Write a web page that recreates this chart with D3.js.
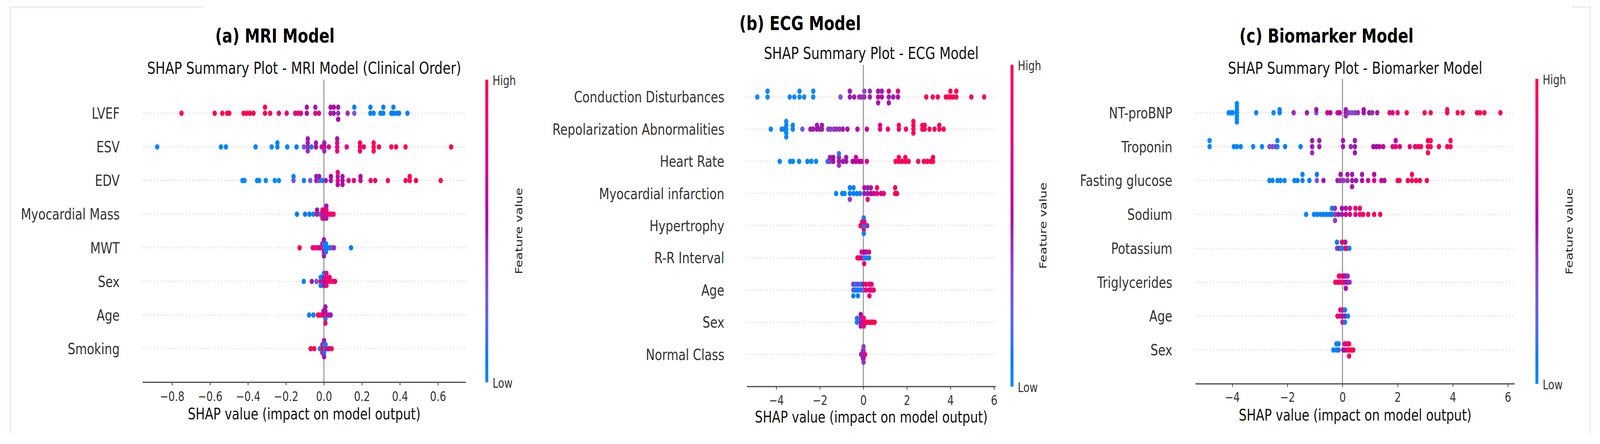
<!DOCTYPE html>
<html>
<head>
<meta charset="utf-8">
<title>SHAP Summary Plots</title>
<style>
  html, body { margin: 0; padding: 0; background: #fff; overflow: hidden; }
  svg { display: block; width: 100vw; height: 100vh; font-family: "DejaVu Sans", sans-serif; }
</style>
</head>
<body>
<svg id="chart" viewBox="0 0 4411 1137" preserveAspectRatio="none"></svg>

<script src="https://cdn.jsdelivr.net/npm/d3@7"></script>
<script>

// ---- data: [shap value, feature value (0 = low, 1 = high)] per sample ----

const mriFeatures = ["LVEF", "ESV", "EDV", "Myocardial Mass", "MWT", "Sex", "Age", "Smoking"];
const mriTicks = [-0.8, -0.6, -0.4, -0.2, 0.0, 0.2, 0.4, 0.6];
const mriPoints = [
  // LVEF
  [[-0.75,1],[-0.575,1],[-0.535,1],[-0.51,1],[-0.498,1],[-0.423,1],[-0.407,1],[-0.39,1],[-0.371,1],
   [-0.31,1],[-0.31,1],[-0.283,0.95],[-0.237,0.8],[-0.196,0.8],[-0.151,0.8],[-0.136,0.8],[-0.121,0.75],
   [-0.09,0.55],[-0.09,0.5],[-0.045,0.75],[-0.045,0.5],[-0.026,0.75],[0.035,0.5],[0.035,0.5],
   [0.052,0.5],[0.052,0.55],[0.075,0.45],[0.075,0.5],[0.075,0.55],[0.125,0.45],[0.16,0.3],[0.16,0.05],
   [0.245,0.05],[0.245,0.05],[0.262,0.05],[0.298,0.05],[0.313,0.05],[0.313,0.05],[0.355,0.05],
   [0.366,0.05],[0.366,0.05],[0.383,0.05],[0.396,0.05],[0.44,0.05]],
  // ESV
  [[-0.878,0],[-0.542,0],[-0.516,0],[-0.36,0],[-0.275,0],[-0.245,0.05],[-0.245,0.05],[-0.193,0],
   [-0.144,0.05],[-0.105,0.3],[-0.085,0.45],[-0.085,0.5],[-0.085,0.45],[-0.085,0.5],[-0.066,0.1],
   [-0.042,0.6],[-0.042,0.5],[-0.012,0.8],[0.002,0.5],[0.002,0.5],[0.002,0.45],[0.026,0.8],
   [0.07,0.8],[0.07,0.85],[0.07,0.8],[0.07,0.5],[0.12,0.8],[0.19,0.85],[0.19,1],[0.19,0.85],
   [0.21,0.85],[0.262,1],[0.262,1],[0.262,1],[0.29,1],[0.355,1],[0.38,1],[0.43,1],[0.67,1]],
  // EDV
  [[-0.429,0],[-0.418,0],[-0.352,0],[-0.341,0],[-0.306,0],[-0.259,0],[-0.237,0],[-0.16,0.3],
   [-0.16,0.05],[-0.105,0.05],[-0.072,0.3],[-0.04,0.5],[-0.04,0.5],[-0.025,0.3],[-0.025,0.5],
   [-0.009,0.05],[0.01,0.5],[0.037,0.5],[0.037,0.55],[0.073,0.8],[0.073,0.5],[0.073,0.6],[0.073,0.85],
   [0.098,0.6],[0.098,0.5],[0.098,0.55],[0.13,0.8],[0.158,0.8],[0.193,0.6],[0.193,0.55],[0.246,0.85],
   [0.27,0.85],[0.337,1],[0.43,1],[0.452,1],[0.452,1],[0.485,1],[0.615,1]],
  // Myocardial Mass
  [[-0.142,0.05],[-0.099,0.1],[-0.076,0.05],[-0.055,0.05],[-0.036,0.85],[-0.036,0.5],[-0.019,0.1],
   [-0.008,0.85],[-0.008,0.85],[-0.008,0.9],[0.001,0.5],[0.001,0.85],[0.001,0.5],[0.013,0.85],
   [0.013,0.85],[0.013,0.5],[0.013,0.5],[0.021,0.85],[0.031,0.85],[0.041,0.9],[0.051,0.9]],
  // MWT
  [[-0.128,1],[-0.059,0.85],[-0.048,0.85],[-0.034,0.85],[-0.027,0.9],[-0.018,0.5],[-0.008,0.85],
   [-0.008,0.8],[0.0,0.35],[0.0,0.1],[0.0,0.5],[0.0,0.5],[0.0,0.5],[0.011,0.05],[0.011,0.05],
   [0.011,0.1],[0.02,0.05],[0.03,0.05],[0.041,0.3],[0.053,0.45],[0.143,0.05]],
  // Sex
  [[-0.106,0.05],[-0.064,0.5],[-0.039,0.3],[-0.017,1],[-0.017,0.05],[-0.017,0.05],[0.0,0.5],
   [0.0,0.5],[0.0,0.5],[0.0,0.1],[0.013,0.85],[0.013,0.85],[0.013,0.85],[0.013,0.85],[0.03,0.85],
   [0.03,0.85],[0.046,1],[0.059,0.85]],
  // Age
  [[-0.078,0.05],[-0.055,0.05],[-0.031,1],[-0.021,0.85],[-0.011,0.95],[-0.002,0.8],[-0.002,0.6],
   [0.008,0.8],[0.008,0.5],[0.008,0.05],[0.008,0.5],[0.008,1],[0.017,0.8],[0.027,0.5],[0.036,0.5]],
  // Smoking
  [[-0.07,1],[-0.051,1],[-0.021,0.05],[-0.008,1],[-0.008,0.85],[-0.008,0.8],[0.001,0.85],
   [0.001,0.05],[0.001,0.05],[0.001,0.5],[0.001,0.5],[0.009,0.05],[0.009,0.1],[0.014,0.85],
   [0.027,0.5],[0.041,1]]
];

const ecgFeatures = ["Conduction Disturbances", "Repolarization Abnormalities", "Heart Rate",
  "Myocardial infarction", "Hypertrophy", "R-R Interval", "Age", "Sex", "Normal Class"];
const ecgTicks = [-4, -2, 0, 2, 4, 6];
const ecgPoints = [
  // Conduction Disturbances
  [[-4.87,0],[-4.4,0],[-4.4,0],[-3.38,0],[-3.17,0],[-2.93,0],[-2.93,0],[-2.72,0],[-2.3,0],[-2.3,0],
   [-1.05,0.3],[-0.62,0.5],[-0.62,0.5],[-0.42,0.5],[-0.19,0.45],[-0.08,0.45],[0.05,0.45],[0.05,0.35],
   [0.3,0.5],[0.3,0.45],[0.68,0.6],[0.68,0.5],[0.68,0.5],[0.85,0.6],[0.85,0.5],[1.17,0.5],[1.17,0.7],
   [1.17,0.5],[1.37,0.5],[1.59,0.6],[1.59,0.75],[2.89,1],[3.19,1],[3.42,1],[3.79,1],[3.9,1],[4.0,1],
   [4.0,1],[4.12,1],[4.27,1],[4.27,1],[4.96,1],[5.55,1]],
  // Repolarization Abnormalities
  [[-4.25,0],[-3.75,0],[-3.65,0],[-3.54,0],[-3.54,0],[-3.54,0],[-3.54,0],[-3.54,0],[-3.24,0],
   [-3.24,0.05],[-2.8,0.25],[-2.43,0.5],[-2.3,0.5],[-2.13,0.5],[-2.13,0.5],[-2.0,0.5],[-1.9,0.5],
   [-1.9,0.5],[-1.61,0.4],[-1.5,0.4],[-1.35,0.4],[-1.24,0.45],[-1.09,0.45],[-0.94,0.5],[-0.73,0.55],
   [-0.27,0.6],[0.16,0.65],[0.77,0.8],[0.77,0.8],[1.13,0.85],[1.63,0.95],[1.63,1],[1.96,0.95],
   [2.3,1],[2.3,1],[2.3,1],[2.3,0.95],[2.71,1],[2.71,1],[2.82,1],[2.82,1],[3.04,0.9],[3.27,0.95],
   [3.49,0.95],[3.49,1],[3.69,1]],
  // Heart Rate
  [[-3.84,0],[-3.36,0],[-3.24,0],[-2.95,0],[-2.57,0],[-2.39,0],[-2.17,0],[-1.64,0.1],[-1.53,0.4],
   [-1.53,0.5],[-1.38,0.5],[-1.38,0.55],[-1.12,0.5],[-1.12,0.5],[-1.12,0.45],[-1.12,0.15],[-0.94,0.5],
   [-0.79,0.5],[-0.79,0.5],[-0.49,0.55],[-0.34,0.6],[-0.34,0.7],[-0.19,0.6],[-0.08,0.65],[0.16,0.8],
   [1.48,1],[1.63,1],[1.63,1],[1.78,1],[1.93,1],[1.93,0.95],[2.08,1],[2.52,0.95],[2.78,1],[2.93,1],
   [3.08,1],[3.2,1],[3.2,1]],
  // Myocardial infarction
  [[-1.25,0],[-0.97,0],[-0.86,0],[-0.62,0.05],[-0.62,0.05],[-0.62,0.4],[-0.45,0.05],[-0.45,0.05],
   [-0.3,0.05],[-0.15,0.1],[0.05,0.5],[0.05,0.5],[0.2,0.5],[0.2,0.5],[0.2,0.85],[0.35,0.55],
   [0.35,0.5],[0.48,0.7],[0.63,0.8],[0.63,0.95],[0.81,0.8],[0.94,0.8],[1.46,1],[1.46,1],[1.55,1]],
  // Hypertrophy
  [[-0.13,0.95],[-0.05,0.85],[-0.05,0.8],[0.02,0.05],[0.02,0.85],[0.02,1],[0.02,0.05],[0.02,0.05],
   [0.05,0.05],[0.05,0.85],[0.18,0.45]],
  // R-R Interval
  [[-0.27,1],[-0.18,0.9],[-0.08,0.6],[-0.08,0.85],[0.04,0.3],[0.04,0.55],[0.04,0.85],[0.13,0.05],
   [0.13,0.5],[0.26,0.05],[0.26,0.85]],
  // Age
  [[-0.46,0.3],[-0.46,0.45],[-0.46,0.05],[-0.35,0.05],[-0.35,0.05],[-0.25,0.05],[-0.25,0.4],
   [-0.25,0.05],[-0.12,0.1],[-0.12,0.05],[0.0,0.3],[0.0,0.5],[0.12,0.8],[0.12,1],[0.28,0.75],
   [0.28,0.75],[0.28,0.8],[0.38,0.8],[0.38,0.75],[0.48,0.85]],
  // Sex
  [[-0.29,0.05],[-0.29,0.1],[-0.12,0.5],[-0.12,0.45],[-0.12,0.5],[-0.12,0.55],[0.02,0.8],[0.02,0.85],
   [0.02,0.85],[0.12,0.9],[0.2,1],[0.28,1],[0.36,1],[0.44,1],[0.52,1]],
  // Normal Class
  [[-0.1,0.5],[-0.02,0.05],[-0.02,0.1],[-0.02,0.5],[0.01,0.5],[0.01,0.45],[0.01,0.5],[0.01,0.4],
   [0.01,0.45],[0.08,0.85]]
];

const bioFeatures = ["NT-proBNP", "Troponin", "Fasting glucose", "Sodium", "Potassium",
  "Triglycerides", "Age", "Sex"];
const bioTicks = [-4, -2, 0, 2, 4, 6];
const bioPoints = [
  // NT-proBNP
  [[-4.13,0],[-4.05,0],[-3.98,0],[-3.83,0],[-3.83,0],[-3.83,0],[-3.83,0],[-3.83,0],[-3.83,0],
   [-3.83,0],[-3.13,0],[-2.5,0],[-2.28,0.05],[-2.28,0.05],[-1.77,0.45],[-1.29,0.5],[-0.95,0.3],
   [-0.95,0.5],[-0.55,0.7],[-0.44,0.6],[-0.18,0.7],[-0.1,0.6],[0.12,0.5],[0.12,0.5],[0.12,0.45],
   [0.23,0.4],[0.34,0.35],[0.45,0.4],[0.56,0.45],[0.77,0.5],[0.77,0.55],[0.97,0.5],[1.08,0.45],
   [1.26,0.5],[1.71,0.8],[1.82,0.8],[2.0,0.85],[2.33,1],[2.98,1],[3.2,1],[3.8,1],[3.8,0.9],
   [4.18,1],[4.36,1],[4.88,1],[4.99,1],[5.15,1],[5.73,1]],
  // Troponin
  [[-4.82,0],[-4.82,0],[-3.94,0],[-3.83,0],[-3.69,0],[-3.24,0],[-2.92,0],[-2.65,0.3],[-2.54,0.35],
   [-2.43,0.3],[-2.36,0.1],[-2.36,0.05],[-2.08,0.05],[-1.52,0.05],[-1.1,0.5],[-1.1,0.5],[-1.1,0.45],
   [-0.84,0.5],[-0.84,0.5],[0.02,0.5],[0.02,0.5],[0.3,0.45],[0.45,0.5],[0.45,0.5],[0.45,0.5],
   [1.12,0.55],[1.23,0.55],[1.34,0.6],[1.48,0.65],[1.82,0.8],[1.93,0.8],[1.93,0.6],[2.08,0.8],
   [2.44,0.8],[2.63,0.9],[2.74,0.9],[2.85,0.95],[3.1,1],[3.1,1],[3.1,1],[3.2,1],[3.2,1],[3.5,1],
   [3.8,1],[3.92,1],[3.92,1]],
  // Fasting glucose
  [[-2.65,0],[-2.54,0],[-2.36,0],[-2.25,0],[-2.1,0],[-1.74,0.05],[-1.63,0.05],[-1.45,0.05],
   [-1.45,0.05],[-1.2,0.05],[-0.93,0.3],[-0.93,0.1],[-0.69,0.5],[-0.18,0.5],[-0.07,0.45],[-0.07,0.5],
   [0.04,0.4],[0.18,0.45],[0.18,0.5],[0.35,0.5],[0.35,0.5],[0.35,0.5],[0.49,0.5],[0.71,0.55],
   [0.71,0.5],[0.93,0.7],[1.15,0.75],[1.15,0.6],[1.41,0.65],[1.52,0.6],[2.0,1],[2.07,1],[2.37,0.95],
   [2.52,1],[2.52,1],[2.67,1],[2.81,1],[3.06,1]],
  // Sodium
  [[-1.32,0],[-1.03,0],[-0.92,0],[-0.8,0.05],[-0.69,0.05],[-0.58,0.05],[-0.47,0.1],[-0.38,0.05],
   [-0.38,0.05],[-0.27,0.4],[-0.27,0.45],[-0.27,0.4],[-0.15,0.5],[-0.02,0.5],[-0.02,0.55],[0.12,0.65],
   [0.12,0.5],[0.27,0.75],[0.27,0.8],[0.47,0.8],[0.47,0.85],[0.63,0.85],[0.63,0.9],[0.75,0.9],
   [0.93,1],[1.15,1],[1.37,1]],
  // Potassium
  [[-0.2,0.3],[-0.2,0.05],[-0.13,0.5],[-0.06,0.05],[-0.02,0.05],[-0.02,1],[0.1,0.8],[0.1,0.5],
   [0.16,0.95],[0.25,0.05]],
  // Triglycerides
  [[-0.26,1],[-0.2,0.85],[-0.13,0.9],[-0.13,0.85],[-0.06,1],[-0.06,1],[0.05,0.75],[0.05,0.55],
   [0.12,0.5],[0.12,0.5],[0.12,0.55],[0.19,0.5],[0.19,0.45],[0.26,0.45]],
  // Age
  [[-0.18,1],[-0.08,0.85],[-0.08,0.85],[0.0,0.5],[0.0,0.85],[0.0,0.8],[0.09,0.5],[0.09,0.05],
   [0.09,0.05],[0.2,0.05]],
  // Sex
  [[-0.33,0.05],[-0.22,0.05],[-0.22,0.05],[-0.14,0.1],[-0.14,0.05],[0.03,0.5],[0.08,0.6],[0.08,0.65],
   [0.17,0.8],[0.17,0.85],[0.24,1],[0.24,1],[0.24,1],[0.32,1],[0.39,1]]
];

// ---- layout ----

const SY = 1.2;   // the source picture is stretched vertically

const panels = [
  { title: "(a) MRI Model", titleX: 758, titleY: 92,
    sub: "SHAP Summary Plot - MRI Model (Clinical Order)", subY: 174,
    features: mriFeatures, points: mriPoints, ticks: mriTicks, fmt: d3.format(".1f"),
    domain: [-0.955, 0.747], x0: 393, x1: 1284, topY: 204, axisY: 979, labelX: 330,
    tickY: 1015, xlabY: 1060, cbX: 1342, fvX: 1430 },
  { title: "(b) ECG Model", titleX: 2206, titleY: 60,
    sub: "SHAP Summary Plot - ECG Model", subY: 136,
    features: ecgFeatures, points: ecgPoints, ticks: ecgTicks, fmt: d3.format("d"),
    domain: [-5.35, 6.08], x0: 2059, x1: 2745, topY: 166, axisY: 990, labelX: 1997,
    tickY: 1025, xlabY: 1068, cbX: 2790, fvX: 2876 },
  { title: "(c) Biomarker Model", titleX: 3657, titleY: 92,
    sub: "SHAP Summary Plot - Biomarker Model", subY: 174,
    features: bioFeatures, points: bioPoints, ticks: bioTicks, fmt: d3.format("d"),
    domain: [-5.33, 6.25], x0: 3296, x1: 4176, topY: 202, axisY: 983, labelX: 3232,
    tickY: 1017, xlabY: 1063, cbX: 4237, fvX: 4326 }
];

const svg = d3.select("#chart");
svg.append("rect").attr("width", 4411).attr("height", 1137).attr("fill", "#fff");

// shap red-blue colormap (lch path, darker in the middle)
function shapColor(t) {
  const l = t < 0.5 ? 54 - 28 * t : 40 + 28 * (t - 0.5);
  return d3.hcl(266.93 + 113.39 * t, 70 + 20 * t, l).formatHex();
}

// same layering as shap's summary plot: bin the values, stack 0,+1,-1,+2,...
function beeswarm(vals, rowHeight) {
  const nbins = 100;
  const lo = d3.min(vals), hi = d3.max(vals);
  const quant = vals.map(v => Math.round(nbins * (v - lo) / (hi - lo + 1e-8)));
  const inds = d3.range(vals.length).sort((a, b) => quant[a] - quant[b] || a - b);
  const ys = vals.map(() => 0);
  let layer = 0, last = -1;
  for (const i of inds) {
    if (quant[i] !== last) layer = 0;
    ys[i] = Math.ceil(layer / 2) * ((layer % 2) * 2 - 1);
    layer++;
    last = quant[i];
  }
  const m = d3.max(ys) + 1;
  return ys.map(y => y * 0.9 * (rowHeight / m));
}

function stretchedText(g, x, y, str, size, anchor) {
  return g.append("text")
    .attr("transform", `translate(${x},${y}) scale(1,${SY})`)
    .attr("text-anchor", anchor)
    .attr("dominant-baseline", "central")
    .attr("font-size", size)
    .text(str);
}

// gradient for the colour bars
const grad = svg.append("defs").append("linearGradient")
  .attr("id", "shapGrad").attr("x1", 0).attr("y1", 1).attr("x2", 0).attr("y2", 0);
grad.selectAll("stop").data(d3.range(0, 1.0001, 0.05)).join("stop")
  .attr("offset", d => d).attr("stop-color", d => shapColor(d));

panels.forEach(p => {
  const g = svg.append("g");
  const n = p.features.length;
  const x = d3.scaleLinear().domain(p.domain).range([p.x0, p.x1]);
  const y = d3.scaleLinear().domain([-1, n]).range([p.axisY, p.topY]);

  // titles
  stretchedText(g, p.titleX, p.titleY, p.title, 42, "middle")
    .attr("font-weight", "bold").attr("fill", "#000");
  stretchedText(g, (p.x0 + p.x1) / 2, p.subY, p.sub, 36, "middle").attr("fill", "#111");

  // dotted row guides
  p.features.forEach((f, i) => {
    const pos = n - 1 - i;
    g.append("line")
      .attr("x1", p.x0).attr("x2", p.x1).attr("y1", y(pos)).attr("y2", y(pos))
      .attr("stroke", "#cccccc").attr("stroke-width", 2.5).attr("stroke-dasharray", "2,6");
    stretchedText(g, p.labelX, y(pos), f, 33, "end").attr("fill", "#333");
  });

  // zero line
  g.append("line")
    .attr("x1", x(0)).attr("x2", x(0)).attr("y1", p.topY).attr("y2", p.axisY)
    .attr("stroke", "#999999").attr("stroke-width", 3);

  // beeswarm dots
  p.points.forEach((pts, i) => {
    const pos = n - 1 - i;
    const offs = beeswarm(pts.map(d => d[0]), 0.4);
    g.append("g").selectAll("ellipse").data(pts).join("ellipse")
      .attr("cx", d => x(d[0]))
      .attr("cy", (d, j) => y(pos + offs[j]))
      .attr("rx", 6).attr("ry", 7)
      .attr("fill", d => shapColor(d[1]));
  });

  // x axis
  const axis = d3.axisBottom(x).tickValues(p.ticks).tickFormat(p.fmt)
    .tickSizeOuter(0).tickSize(8).tickPadding(0);
  const ag = g.append("g").attr("transform", `translate(0,${p.axisY})`).call(axis);
  ag.select(".domain").attr("stroke", "#444").attr("stroke-width", 3)
    .attr("d", `M${p.x0},0H${p.x1}`);
  ag.selectAll(".tick line").attr("stroke", "#444").attr("stroke-width", 2);
  ag.selectAll(".tick text")
    .attr("y", (p.tickY - p.axisY) / SY).attr("dy", null)
    .attr("dominant-baseline", "central")
    .attr("transform", `scale(1,${SY})`)
    .attr("font-size", 28).attr("font-family", "DejaVu Sans").attr("fill", "#333");

  stretchedText(g, (p.x0 + p.x1) / 2, p.xlabY, "SHAP value (impact on model output)", 34, "middle")
    .attr("fill", "#111");

  // colour bar
  g.append("rect")
    .attr("x", p.cbX - 4).attr("y", p.topY).attr("width", 8).attr("height", p.axisY - p.topY)
    .attr("fill", "url(#shapGrad)");
  stretchedText(g, p.cbX + 16, p.topY + 2, "High", 28, "start").attr("fill", "#333");
  stretchedText(g, p.cbX + 16, p.axisY + 2, "Low", 28, "start").attr("fill", "#333");
  g.append("text")
    .attr("transform", `translate(${p.fvX},${(p.topY + p.axisY) / 2}) scale(1,${SY}) rotate(-90)`)
    .attr("text-anchor", "middle").attr("dominant-baseline", "central")
    .attr("font-size", 27).attr("fill", "#222")
    .text("Feature value");
});

// faint frame remnants of the screenshot
const frame = svg.append("g").attr("fill", "none").attr("stroke-width", 3);
frame.append("path").attr("d", "M28,1110V18H562").attr("stroke", "#f0e6e6");
frame.append("path").attr("d", "M4332,18H4384V1110").attr("stroke", "#f0e6e6");

</script>
</body>
</html>
